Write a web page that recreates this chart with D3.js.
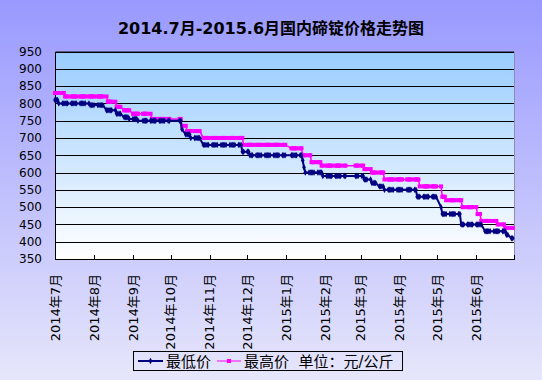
<!DOCTYPE html>
<html>
<head>
<meta charset="utf-8">
<script src="https://cdn.jsdelivr.net/npm/d3@7"></script>
<style>
  body { margin: 0; }
  svg { display: block; }
</style>
</head>
<body>
<div id="chart"></div>
<script>
// month labels on the x axis
var months = ["2014年7月", "2014年8月", "2014年9月", "2014年10月", "2014年11月", "2014年12月",
  "2015年1月", "2015年2月", "2015年3月", "2015年4月", "2015年5月", "2015年6月"];
var yTicks = [350, 400, 450, 500, 550, 600, 650, 700, 750, 800, 850, 900, 950];

// non-trading days besides weekends
var holidays = ["2014-09-08", "2014-10-01", "2014-10-02", "2014-10-03", "2014-10-06", "2014-10-07",
  "2015-01-01", "2015-01-02", "2015-02-18", "2015-02-19", "2015-02-20", "2015-02-23", "2015-02-24",
  "2015-04-06", "2015-05-01"];

// price changes: date from which a price holds
var lowDates = ["2014-07-01", "2014-07-04", "2014-07-29", "2014-08-11", "2014-08-19", "2014-08-25",
  "2014-08-29", "2014-09-05", "2014-10-10", "2014-10-13", "2014-10-17", "2014-10-27", "2014-11-27",
  "2014-12-03", "2015-01-14", "2015-01-15", "2015-01-16", "2015-01-30", "2015-03-04", "2015-03-10",
  "2015-03-16", "2015-03-20", "2015-04-15", "2015-05-04", "2015-05-05", "2015-05-20", "2015-06-08",
  "2015-06-25", "2015-06-29"];
var lowValues = [810, 800, 795, 780, 770, 760, 755, 750, 725, 710, 700, 680, 660, 650, 635, 615, 600,
  590, 580, 570, 560, 550, 530, 500, 480, 450, 430, 420, 410];

var highDates = ["2014-07-01", "2014-07-09", "2014-08-12", "2014-08-19", "2014-08-25", "2014-09-01",
  "2014-09-16", "2014-10-10", "2014-10-14", "2014-10-27", "2014-11-28", "2015-01-05", "2015-01-14",
  "2015-01-21", "2015-01-29", "2015-03-04", "2015-03-10", "2015-03-20", "2015-04-17", "2015-05-05",
  "2015-05-08", "2015-05-21", "2015-06-02", "2015-06-05", "2015-06-18", "2015-06-24"];
var highValues = [830, 820, 805, 790, 780, 770, 755, 735, 720, 700, 680, 670, 650, 630, 620, 610, 600,
  580, 560, 530, 520, 500, 480, 460, 450, 440];

var svgWidth = 542,
  svgHeight = 380,
  plotLeft = 55,
  plotRight = 514,
  plotTop = 51.5,
  plotBottom = 259,
  labelTop = 274,
  font = "'DejaVu Sans', 'Noto Sans CJK SC', sans-serif";

var parse = d3.timeParse("%Y-%m-%d"),
  fmt = d3.timeFormat("%Y-%m-%d");

// trading days of the period
var days = d3.timeDay.range(new Date(2014, 6, 1), new Date(2015, 6, 1)).filter(function(d) {
  return d.getDay() !== 0 && d.getDay() !== 6 && holidays.indexOf(fmt(d)) < 0;
});

function series(dates, values) {
  var starts = dates.map(parse);
  var bisect = d3.bisector(function(d) { return d; }).right;
  return days.map(function(d) {
    return { date: d, value: values[bisect(starts, d) - 1] };
  });
}
var low = series(lowDates, lowValues),
  high = series(highDates, highValues);

var x = d3.scaleTime()
  .domain([new Date(2014, 6, 1), new Date(2015, 6, 1)])
  .range([plotLeft, plotRight]);
var y = d3.scaleLinear()
  .domain([yTicks[0], yTicks[yTicks.length - 1]])
  .range([plotBottom, plotTop]);

var svg = d3.select("#chart")
  .append("svg")
  .attr("width", svgWidth)
  .attr("height", svgHeight);

var defs = svg.append("defs");
var bg = defs.append("linearGradient").attr("id", "bg").attr("x1", 0).attr("y1", 0).attr("x2", 0).attr("y2", 1);
bg.append("stop").attr("offset", "0%").attr("stop-color", "#9999ff");
bg.append("stop").attr("offset", "100%").attr("stop-color", "#e6e6fb");
var pg = defs.append("linearGradient").attr("id", "pg").attr("x1", 0).attr("y1", 0).attr("x2", 0).attr("y2", 1);
pg.append("stop").attr("offset", "0%").attr("stop-color", "#99ccff");
pg.append("stop").attr("offset", "100%").attr("stop-color", "#ffffff");

svg.append("rect")
  .attr("width", svgWidth)
  .attr("height", svgHeight)
  .attr("fill", "url(#bg)");

svg.append("rect")
  .attr("x", plotLeft)
  .attr("y", plotTop)
  .attr("width", plotRight - plotLeft)
  .attr("height", plotBottom - plotTop)
  .attr("fill", "url(#pg)");

// title
svg.append("text")
  .text("2014.7月-2015.6月国内碲锭价格走势图")
  .attr("x", svgWidth / 2)
  .attr("y", 34)
  .attr("font-family", font)
  .attr("font-size", "16px")
  .attr("font-weight", "bold")
  .style("text-anchor", "middle");

// y axis with gridlines
var yAxis = svg.append("g")
  .attr("transform", "translate(" + plotLeft + ",0)")
  .call(d3.axisLeft(y).tickValues(yTicks).tickSize(-(plotRight - plotLeft)).tickPadding(13));
yAxis.select(".domain").attr("stroke", "#000");
yAxis.selectAll(".tick line").attr("stroke", "#000").attr("shape-rendering", "crispEdges");
yAxis.selectAll("text")
  .attr("font-family", font)
  .attr("font-size", "12px")
  .attr("fill", "#000");

// right border of the plot
svg.append("line")
  .attr("x1", plotRight + 0.5).attr("x2", plotRight + 0.5)
  .attr("y1", plotTop).attr("y2", plotBottom)
  .attr("stroke", "#8c8cb4");

// x axis, ticks point up into the plot
var tickDates = d3.timeMonth.range(new Date(2014, 6, 1), new Date(2015, 6, 2));
var xAxis = svg.append("g")
  .attr("transform", "translate(0," + plotBottom + ")")
  .call(d3.axisBottom(x).tickValues(tickDates).tickSize(-4).tickFormat(""));
xAxis.selectAll("line, path").attr("stroke", "#000").attr("shape-rendering", "crispEdges");

svg.selectAll("text.months")
  .data(months)
  .enter()
  .append("text")
  .attr("class", "months")
  .text(function(d) { return d; })
  .attr("transform", function(d, i) {
    return "translate(" + x(tickDates[i]) + "," + labelTop + ") rotate(-90)";
  })
  .attr("dy", "0.35em")
  .attr("font-family", font)
  .attr("font-size", "13px")
  .style("text-anchor", "end");

// lines
var line = d3.line()
  .x(function(d) { return x(d.date); })
  .y(function(d) { return y(d.value); });

svg.append("path")
  .datum(high)
  .attr("d", line)
  .attr("fill", "none")
  .attr("stroke", "#ff00ff")
  .attr("stroke-width", 1.5);

svg.selectAll("rect.highmark")
  .data(high)
  .enter()
  .append("rect")
  .attr("class", "highmark")
  .attr("x", function(d) { return x(d.date) - 2; })
  .attr("y", function(d) { return y(d.value) - 2; })
  .attr("width", 4)
  .attr("height", 4)
  .attr("fill", "#ff00ff");

svg.append("path")
  .datum(low)
  .attr("d", line)
  .attr("fill", "none")
  .attr("stroke", "#000080")
  .attr("stroke-width", 2);

var diamond = d3.symbol().type(d3.symbolDiamond).size(12);
svg.selectAll("path.lowmark")
  .data(low)
  .enter()
  .append("path")
  .attr("class", "lowmark")
  .attr("d", diamond)
  .attr("transform", function(d) { return "translate(" + x(d.date) + "," + y(d.value) + ")"; })
  .attr("fill", "#000080");

// legend
var legend = svg.append("g");
legend.append("rect")
  .attr("x", 133.5).attr("y", 351.5)
  .attr("width", 269).attr("height", 19)
  .attr("fill", "none")
  .attr("stroke", "#000");

legend.append("line")
  .attr("x1", 138).attr("x2", 163).attr("y1", 361).attr("y2", 361)
  .attr("stroke", "#000080").attr("stroke-width", 2);
legend.append("path")
  .attr("d", diamond)
  .attr("transform", "translate(150.5,361)")
  .attr("fill", "#000080");
legend.append("text")
  .text("最低价")
  .attr("x", 166).attr("y", 366.5)
  .attr("font-family", font).attr("font-size", "15px");

legend.append("line")
  .attr("x1", 217).attr("x2", 241).attr("y1", 361).attr("y2", 361)
  .attr("stroke", "#ff00ff").attr("stroke-width", 1);
legend.append("rect")
  .attr("x", 227).attr("y", 359).attr("width", 4).attr("height", 4)
  .attr("fill", "#ff00ff");
legend.append("text")
  .text("最高价  单位：元/公斤")
  .attr("x", 244).attr("y", 366.5)
  .attr("font-family", font).attr("font-size", "15px")
  .attr("xml:space", "preserve");
</script>
</body>
</html>
